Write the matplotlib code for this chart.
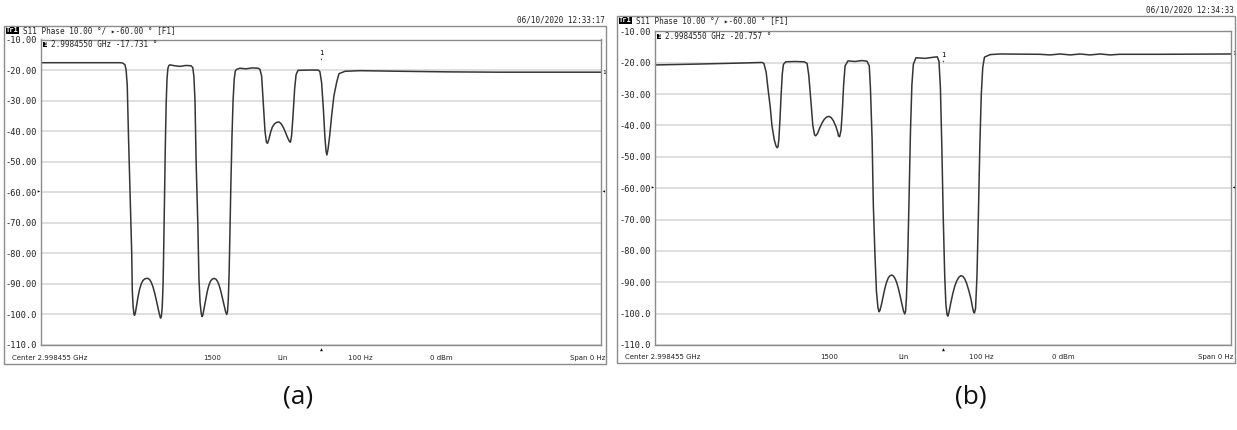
import matplotlib
matplotlib.use("Agg")
import matplotlib.pyplot as plt
from matplotlib.patches import Rectangle

# ---- measured S11 phase traces: (sweep position in % of span, phase in degrees) ----
trace_a = [
    (0, -17.6), (7.0, -17.6), (14.1, -17.6), (14.6, -17.7), (15.0, -18.3), (15.2, -20),
    (15.4, -25), (15.6, -40), (15.9, -60), (16.2, -80), (16.3, -92), (16.45, -97.5),
    (16.6, -99.8), (16.7, -100.3), (16.85, -99.5), (17.05, -97.3), (17.3, -94.5),
    (17.6, -91.8), (17.9, -90.0), (18.2, -88.9), (18.5, -88.4), (18.8, -88.2), (19.1, -88.2),
    (19.4, -88.6), (19.7, -89.5), (20.0, -91.0), (20.3, -93.0), (20.6, -95.4), (20.9, -98.0),
    (21.15, -100.0), (21.35, -101.2), (21.5, -100.6), (21.65, -97.5), (21.8, -90), (21.9, -80),
    (22.05, -62), (22.2, -45), (22.35, -31), (22.5, -23), (22.65, -19.6), (22.8, -18.6),
    (23.0, -18.3), (23.9, -18.6), (24.8, -18.8), (25.9, -18.5), (26.8, -18.6), (27.1, -19.2),
    (27.3, -22), (27.5, -30), (27.7, -50), (28.0, -70), (28.2, -88), (28.4, -96),
    (28.6, -99.5), (28.75, -100.7), (28.9, -100.2), (29.1, -98.2), (29.4, -95.2),
    (29.7, -92.4), (30.0, -90.3), (30.3, -89.0), (30.6, -88.4), (30.9, -88.2), (31.2, -88.4),
    (31.5, -89.1), (31.8, -90.4), (32.1, -92.3), (32.4, -94.6), (32.7, -97.0), (32.95, -99.0),
    (33.15, -100.0), (33.3, -99.2), (33.45, -95), (33.6, -86), (33.75, -72), (33.9, -58),
    (34.1, -42), (34.3, -30), (34.5, -23), (34.7, -20.3), (34.9, -19.8), (35.5, -19.4),
    (36.6, -19.6), (37.7, -19.3), (38.8, -19.4), (39.1, -19.8), (39.4, -22), (39.7, -31),
    (40.0, -40), (40.25, -43.6), (40.45, -44), (40.7, -42.6), (41.0, -40.4), (41.3, -38.7),
    (41.7, -37.6), (42.1, -37.1), (42.5, -37.0), (42.9, -37.6), (43.3, -38.9), (43.7, -40.6),
    (44.1, -42.4), (44.4, -43.5), (44.55, -43.6), (44.75, -41.5), (45.0, -35), (45.3, -26),
    (45.55, -21.5), (45.9, -20.1), (48.0, -20), (49.5, -20), (49.8, -20.5), (50.1, -24),
    (50.4, -32), (50.7, -42), (50.9, -46.5), (51.05, -47.8), (51.25, -46), (51.55, -41.5),
    (51.9, -35), (52.3, -28.5), (52.8, -24), (53.2, -21.2), (54.3, -20.4), (57.0, -20.2),
    (64.1, -20.4), (73.0, -20.6), (82.0, -20.7), (100, -20.7),
]
trace_b = [
    (0, -20.7), (7.8, -20.4), (14.8, -20.1), (18.6, -19.9), (18.9, -20.2), (19.3, -23),
    (19.6, -28), (20.0, -34), (20.3, -40), (20.7, -44.5), (21.0, -46.5), (21.2, -47.1),
    (21.35, -46.8), (21.5, -44.5), (21.7, -38), (21.9, -30), (22.1, -23.5), (22.3, -20.5),
    (22.7, -19.7), (24.3, -19.6), (25.9, -19.7), (26.4, -20.2), (26.7, -24), (27.1, -33),
    (27.4, -40), (27.7, -43.0), (27.9, -43.3), (28.2, -42.6), (28.6, -40.8), (29.0, -39.2),
    (29.4, -38.0), (29.8, -37.3), (30.2, -37.1), (30.6, -37.5), (31.0, -38.6), (31.4, -40.3),
    (31.7, -42.0), (31.85, -43.3), (32.05, -43.6), (32.3, -41.5), (32.5, -36), (32.75, -27),
    (33.0, -21), (33.5, -19.4), (34.7, -19.6), (35.9, -19.3), (36.8, -19.5), (37.2, -21),
    (37.4, -28), (37.7, -45), (37.9, -65), (38.2, -82), (38.45, -93), (38.7, -98),
    (38.9, -99.4), (39.05, -99.0), (39.3, -97.2), (39.6, -94.6), (39.9, -92.0), (40.2, -90.0),
    (40.5, -88.6), (40.8, -87.9), (41.1, -87.7), (41.4, -88.0), (41.7, -88.9), (42.0, -90.3),
    (42.3, -92.3), (42.6, -94.7), (42.9, -97.2), (43.15, -99.2), (43.35, -100.1),
    (43.5, -99.3), (43.65, -95), (43.85, -84), (44.1, -64), (44.35, -42), (44.6, -27),
    (44.85, -20.5), (45.3, -18.4), (46.9, -18.6), (48.1, -18.3), (49.0, -18.1), (49.3, -19.5),
    (49.55, -28), (49.8, -47), (50.05, -70), (50.3, -88), (50.5, -97), (50.7, -100.3),
    (50.85, -100.8), (51.05, -99.4), (51.35, -96.6), (51.7, -93.6), (52.05, -91.2),
    (52.4, -89.5), (52.75, -88.4), (53.1, -87.9), (53.45, -88.1), (53.8, -89.0), (54.15, -90.6),
    (54.5, -92.8), (54.85, -95.3), (55.1, -97.8), (55.3, -99.4), (55.45, -99.8), (55.65, -98.4),
    (55.9, -88), (56.15, -68), (56.4, -46), (56.65, -30), (56.9, -21.5), (57.2, -18.2),
    (58.2, -17.4), (59.9, -17.2), (66.8, -17.3), (68.6, -17.5), (70.3, -17.2), (72.1, -17.5),
    (73.8, -17.2), (75.5, -17.5), (77.3, -17.2), (79.0, -17.5), (80.7, -17.3), (87.7, -17.3),
    (100, -17.2),
]
sweep_a, phase_a = map(list, zip(*trace_a))
sweep_b, phase_b = map(list, zip(*trace_b))

# ---- instrument annotations ----
y_ticks = [-10, -20, -30, -40, -50, -60, -70, -80, -90, -100, -110]
y_labels = ["-10.00", "-20.00", "-30.00", "-40.00", "-50.00", "-60.00", "-70.00",
            "-80.00", "-90.00", "-100.0", "-110.0"]
ref_level = -60
marker_pos = 50
marker_val_a = -17.731
marker_val_b = -20.757
marker_freq = "2.9984550 GHz"
stamps = ["06/10/2020 12:33:17", "06/10/2020 12:34:33"]
footer = ["Center 2.998455 GHz", "1500", "Lin", "100 Hz", "0 dBm", "Span 0 Hz"]
captions = ["(a)", "(b)"]

W, H = 1237, 430
fig = plt.figure(figsize=(W / 100, H / 100), dpi=100)
MONO = ["DejaVu Sans Mono", "DejaVu Sans"]
TRACE = "#353535"
FRAME = "#8c8c8c"
GRID = "#d9d9d9"


def fx(px):
    return px / W


def fy(py):
    return 1 - py / H


def panel(sweep, phase, mval, stamp, caption, outer, inner, footer_x, cap_xy, stamp_y):
    ox0, oy0, ox1, oy1 = outer
    ix0, iy0, ix1, iy1 = inner
    # outer window frame
    fig.patches.append(Rectangle((fx(ox0), fy(oy1)), fx(ox1 - ox0), (oy1 - oy0) / H,
                                 transform=fig.transFigure, fill=False,
                                 edgecolor=FRAME, linewidth=1.0))
    ax = fig.add_axes([fx(ix0), fy(iy1), fx(ix1 - ix0), (iy1 - iy0) / H])
    ax.plot(sweep, phase, color=TRACE, linewidth=1.1, solid_joinstyle="round")
    ax.set_xlim(0, 100)
    ax.set_ylim(-110, -10)
    ax.set_yticks(y_ticks)
    ax.set_yticklabels(y_labels, family=MONO, fontsize=6.2, color="#222222")
    ax.set_xticks([])
    ax.tick_params(axis="y", length=0, pad=3)
    ax.grid(axis="y", color=GRID, linewidth=1.2)
    ax.set_axisbelow(True)
    for s in ax.spines.values():
        s.set_color(FRAME)
        s.set_linewidth(1.0)

    # reference-level arrows
    ax.annotate("▸", xy=(0, ref_level), xytext=(-0.5, 0), textcoords="offset points",
                ha="right", va="center", fontsize=4.5, family=MONO, annotation_clip=False)
    ax.annotate("◂", xy=(100, ref_level), xytext=(0.5, 0), textcoords="offset points",
                ha="left", va="center", fontsize=4.5, family=MONO, annotation_clip=False)
    # trace end label
    ax.annotate("1", xy=(100, phase[-1]), xytext=(1, 0), textcoords="offset points",
                ha="left", va="center", fontsize=4.5, family=MONO, annotation_clip=False)
    # marker 1
    ax.annotate("▾", xy=(marker_pos, mval), xytext=(0, 1.5), textcoords="offset points",
                ha="center", va="bottom", fontsize=3.5, family=MONO, color="#444444")
    ax.annotate("1", xy=(marker_pos, mval), xytext=(0, 5), textcoords="offset points",
                ha="center", va="bottom", fontsize=5, family=MONO)
    # stimulus marker on the bottom edge
    ax.annotate("▲", xy=(marker_pos, -110), xytext=(0, -1), textcoords="offset points",
                ha="center", va="top", fontsize=3.5, family=MONO, annotation_clip=False)

    # header line
    fig.text(fx(ox0 + 2), fy(oy0 + 4.5), "Tr1", family=MONO, fontsize=5.0, color="white",
             ha="left", va="center", fontweight="bold",
             bbox=dict(boxstyle="square,pad=0.05", facecolor="black", edgecolor="none"))
    fig.text(fx(ox0 + 19), fy(oy0 + 4.5), "S11 Phase 10.00 °/ ▸-60.00 ° [F1]",
             family=MONO, fontsize=5.5, color="#222222", ha="left", va="center")
    # marker readout
    fig.text(fx(ix0 + 2), fy(iy0 + 5), "1", family=MONO, fontsize=4.6, color="white",
             ha="left", va="center", fontweight="bold",
             bbox=dict(boxstyle="square,pad=0.05", facecolor="black", edgecolor="none"))
    fig.text(fx(ix0 + 10), fy(iy0 + 5), f"{marker_freq} {mval:.3f} °",
             family=MONO, fontsize=5.5, color="#222222", ha="left", va="center")
    # timestamp
    fig.text(fx(ox1 - 1), fy(stamp_y), stamp, family=MONO, fontsize=5.5, color="#222222",
             ha="right", va="center")
    # footer
    fy_row = fy(oy1 - 6)
    fig.text(fx(footer_x[0]), fy_row, footer[0], fontsize=5, ha="left", va="center",
             color="#222222")
    for lab, x in zip(footer[1:5], footer_x[1:5]):
        fig.text(fx(x), fy_row, lab, fontsize=5, ha="center", va="center", color="#222222")
    fig.text(fx(footer_x[5]), fy_row, footer[5], fontsize=5, ha="right", va="center",
             color="#222222")
    # caption
    fig.text(fx(cap_xy[0]), fy(cap_xy[1]), caption, family=["Open Sans", "DejaVu Sans"],
             fontsize=19, ha="center", va="center", color="#111111")


panel(sweep_a, phase_a, marker_val_a, stamps[0], captions[0],
      outer=(4, 26, 606, 364), inner=(41, 39.5, 601, 345),
      footer_x=(12, 212, 283, 360, 441, 605), cap_xy=(298, 397), stamp_y=20)
panel(sweep_b, phase_b, marker_val_b, stamps[1], captions[1],
      outer=(617, 16, 1235, 363), inner=(655, 31.4, 1231, 345),
      footer_x=(625, 829, 904, 981, 1063, 1233), cap_xy=(971, 397), stamp_y=10)

fig.savefig("out.png", dpi=100)
